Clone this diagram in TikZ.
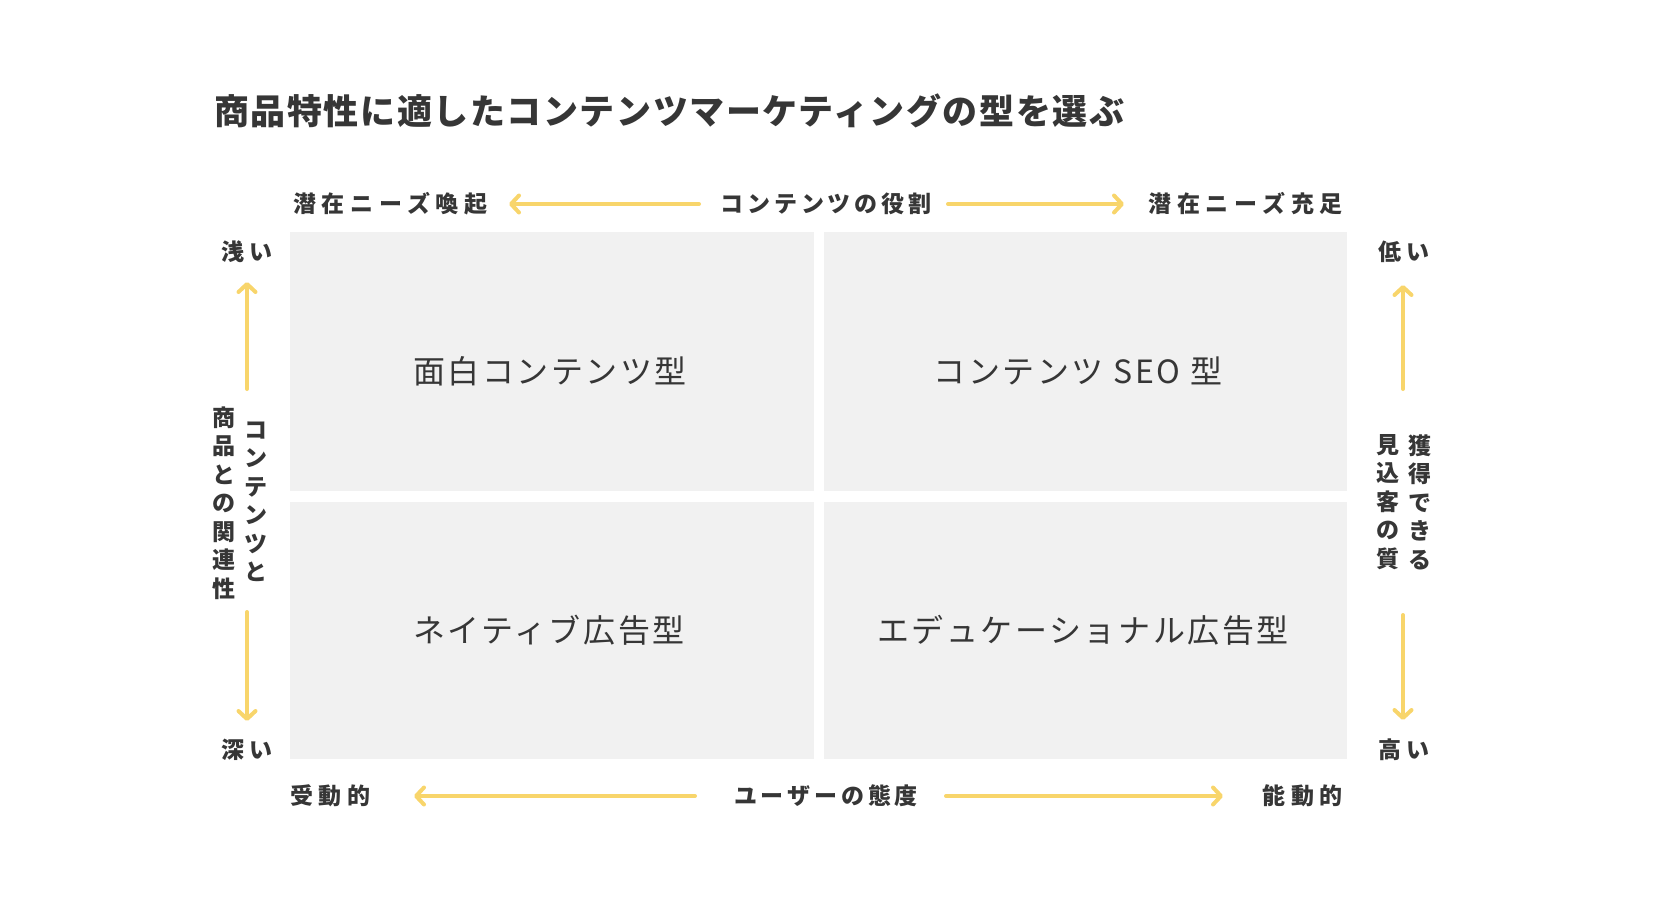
\documentclass[tikz,border=0pt]{standalone}
\usepackage{fontspec}
\usetikzlibrary{arrows.meta}
\newfontfamily\jpr[LetterSpace=8]{Noto Sans CJK JP}
\newfontfamily\jpb[LetterSpace=25]{Noto Sans CJK JP}
\newfontfamily\jpk[LetterSpace=17]{Noto Sans CJK JP}
\newfontfamily\jpv{Noto Sans CJK JP}
\newfontfamily\jpt[LetterSpace=4.5]{Noto Sans CJK JP}
\definecolor{txt}{HTML}{363636}
\definecolor{boxfill}{HTML}{F1F1F1}
\definecolor{arrowc}{HTML}{F8D56B}
\tikzset{
  quad/.style={fill=boxfill, draw=none, inner sep=0pt},
  qlabel/.style={text=txt, inner sep=0pt, font=\jpr\fontsize{32}{36}\selectfont},
  axlabel/.style={text=txt, inner sep=0pt, font=\jpb\bfseries\fontsize{23}{27.5}\selectfont},
  kalabel/.style={text=txt, inner sep=0pt, font=\jpk\bfseries\fontsize{23}{27.5}\selectfont},
  vlabel/.style={text=txt, inner sep=0pt, align=center, font=\jpv\bfseries\fontsize{23}{28.5}\selectfont},
  ttl/.style={text=txt, inner sep=0pt, font=\jpt\bfseries\fontsize{35}{40}\selectfont},
  yarrow/.style={draw=arrowc, line width=4pt, line cap=round, -{Straight Barb[length=8pt,width=17pt,round]}}
}
\begin{document}
\begin{tikzpicture}[x=1pt,y=-1pt]
\useasboundingbox (0,0) rectangle (1654,918);
% title
\node[ttl, anchor=west] (title) at (214,111) {商品特性に適したコンテンツマーケティングの型を選ぶ};
% quadrants
\node[quad, minimum width=524pt, minimum height=259pt] (q1) at (552,361.5) {};
\node[quad, minimum width=523pt, minimum height=259pt] (q2) at (1085.5,361.5) {};
\node[quad, minimum width=524pt, minimum height=257pt] (q3) at (552,630.5) {};
\node[quad, minimum width=523pt, minimum height=257pt] (q4) at (1085.5,630.5) {};
\node[qlabel] (l1) at (550,371) {面白コンテンツ型};
\node[qlabel] (l2) at (1078,371) {コンテンツ SEO 型};
\node[qlabel] (l3) at (549,630) {ネイティブ広告型};
\node[qlabel] (l4) at (1083,630) {エデュケーショナル広告型};
% top axis
\node[axlabel, anchor=west] (tl) at (293,204) {潜在ニーズ喚起};
\node[kalabel] (tc) at (826,204) {コンテンツの役割};
\node[axlabel, anchor=east] (tr) at (1343,204) {潜在ニーズ充足};
\coordinate (ta1) at (699,204); \coordinate (ta2) at (509,204);
\coordinate (ta3) at (948,204); \coordinate (ta4) at (1124,204);
\draw[yarrow] (ta1) -- (ta2);
\draw[yarrow] (ta3) -- (ta4);
% bottom axis
\node[axlabel, anchor=west] (bl) at (290,796) {受動的};
\node[kalabel] (bc) at (826,796) {ユーザーの態度};
\node[axlabel, anchor=east] (br) at (1343,796) {能動的};
\coordinate (ba1) at (695,796); \coordinate (ba2) at (414,796);
\coordinate (ba3) at (946,796); \coordinate (ba4) at (1223,796);
\draw[yarrow] (ba1) -- (ba2);
\draw[yarrow] (ba3) -- (ba4);
% left axis
\node[axlabel] (lt) at (247,252) {浅い};
\node[axlabel] (lb) at (247,750) {深い};
\node[vlabel] (lc1) at (223.5,503) {商\\品\\と\\の\\関\\連\\性};
\node[vlabel] (lc2) at (256,502) {コ\\ン\\テ\\ン\\ツ\\と};
\coordinate (la1) at (247,389); \coordinate (la2) at (247,282);
\coordinate (la3) at (247,612); \coordinate (la4) at (247,721);
\draw[yarrow] (la1) -- (la2);
\draw[yarrow] (la3) -- (la4);
% right axis
\node[axlabel] (rt) at (1404,252) {低い};
\node[axlabel] (rb) at (1404,750) {高い};
\node[vlabel] (rc1) at (1388,502) {見\\込\\客\\の\\質};
\node[vlabel] (rc2) at (1420,502) {獲\\得\\で\\き\\る};
\coordinate (ra1) at (1403,389); \coordinate (ra2) at (1403,285);
\coordinate (ra3) at (1403,615); \coordinate (ra4) at (1403,720);
\draw[yarrow] (ra1) -- (ra2);
\draw[yarrow] (ra3) -- (ra4);
\end{tikzpicture}
\end{document}
